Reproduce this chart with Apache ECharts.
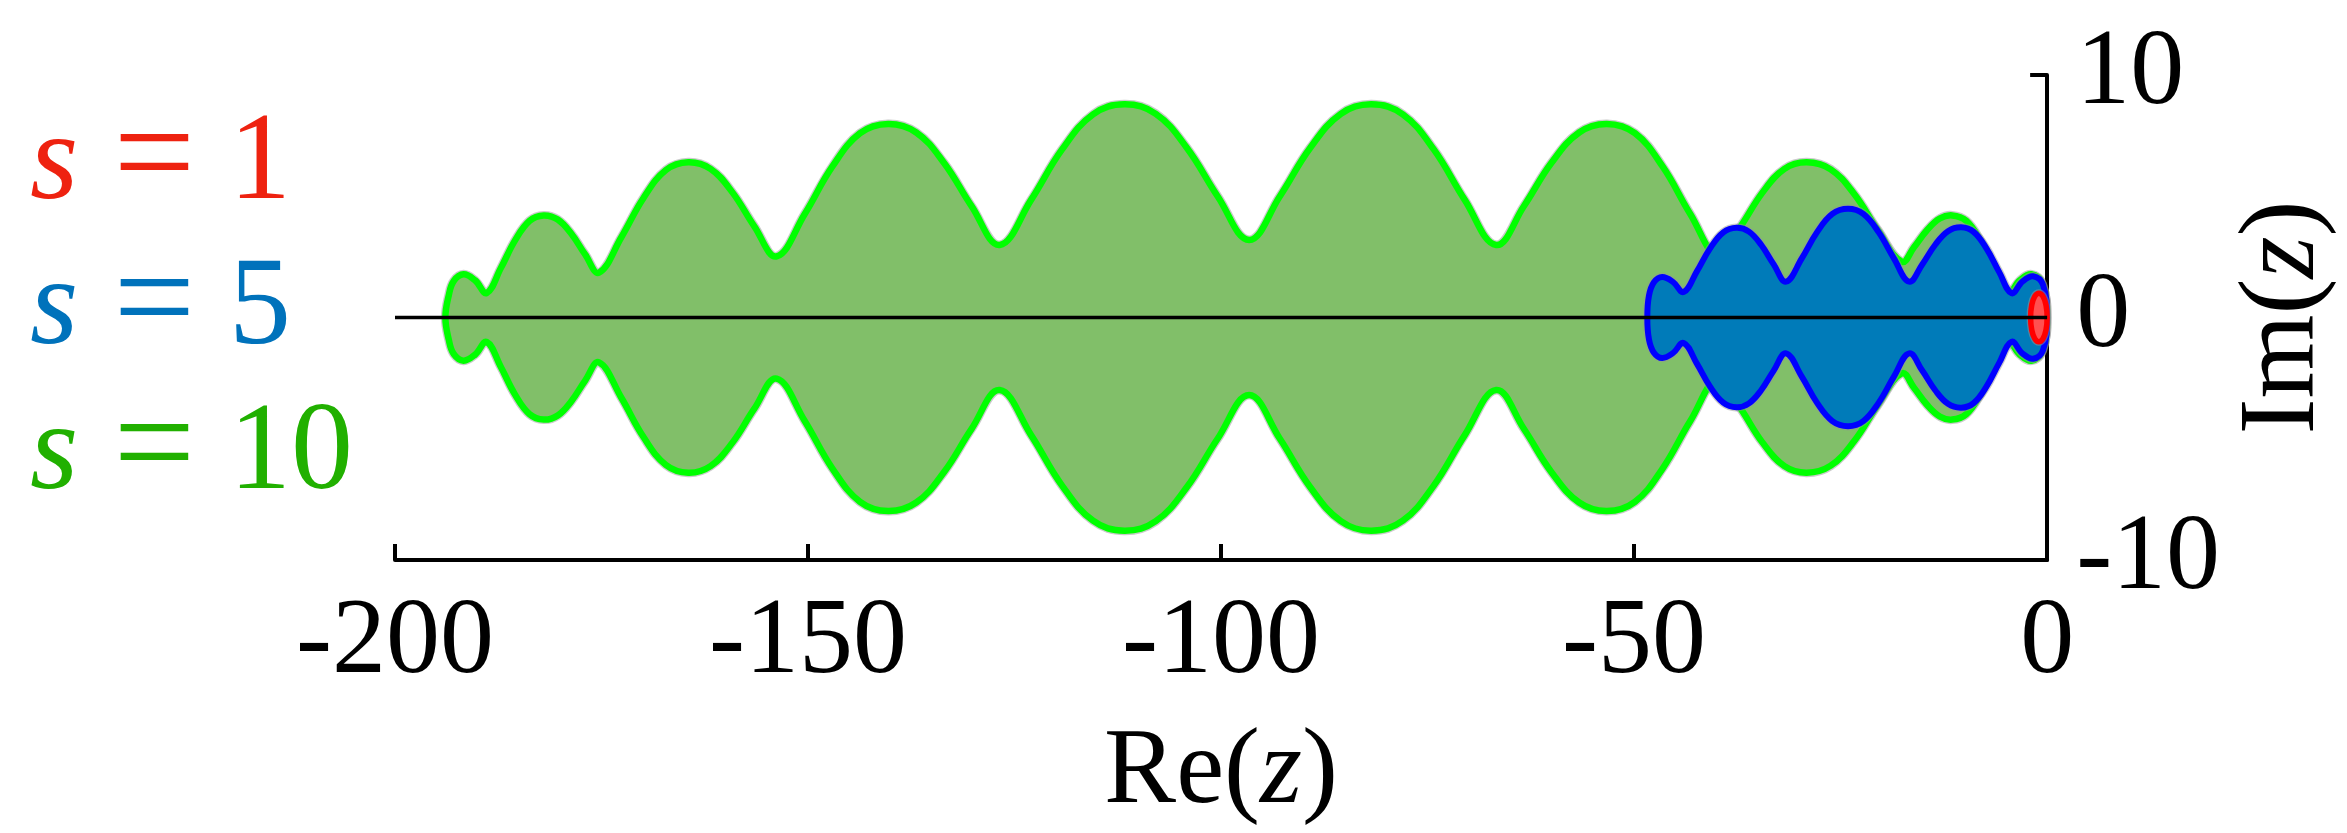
<!DOCTYPE html>
<html>
<head>
<meta charset="utf-8">
<script src="https://cdn.jsdelivr.net/npm/echarts@6/dist/echarts.min.js"></script>
<style>
  html, body { margin: 0; padding: 0; background: #ffffff; }
  #chart { width: 2347px; height: 833px; }
</style>
</head>
<body>
<div id="chart"></div>
<script>
// Boundaries of the stability regions |R(z)| <= 1 in the complex plane.
// Each region is stored as its real parts plus the upper and lower imaginary parts.

// s = 10
const s10Re = [-193.9, -193.5, -192.9, -191.7, -190.3, -188.9,
  -187.2, -185.45, -183.7, -182.0,
  -180.3, -178.65, -177.0, -175.3,
  -172.6, -169.9, -167.2, -164.5,
  -161.8, -159.15, -156.5, -153.8,
  -150.4, -147.05, -143.7, -140.3,
  -136.9, -133.55, -130.2, -126.8,
  -123.0, -119.25, -115.5, -111.7,
  -107.9, -104.15, -100.4, -96.6,
  -92.9, -89.2, -85.5, -81.8,
  -78.0, -74.25, -70.5, -66.7,
  -63.35, -60.0, -56.65, -53.3,
  -49.9, -46.55, -43.2, -39.8,
  -37.1, -34.45, -31.8, -29.1,
  -26.2, -23.35, -20.5, -17.6,
  -16.1, -14.55, -13.0, -11.5,
  -9.8, -8.1, -6.4, -4.7,
  -3.3, -1.9, -0.6, 0];
const s10ImUpper = [0, 0.9, 1.5, 1.78, 1.53, 1.01,
  2.03, 3.19, 3.99, 4.21,
  4.04, 3.45, 2.61, 1.85,
  3.31, 4.94, 6.08, 6.40,
  6.13, 5.16, 3.76, 2.52,
  4.27, 6.23, 7.60, 7.98,
  7.63, 6.38, 4.59, 2.99,
  4.85, 6.93, 8.38, 8.79,
  8.40, 7.00, 4.99, 3.20,
  4.99, 7.00, 8.40, 8.79,
  8.38, 6.93, 4.85, 2.99,
  4.59, 6.38, 7.63, 7.98,
  7.60, 6.23, 4.27, 2.52,
  3.76, 5.16, 6.13, 6.40,
  6.11, 5.09, 3.61, 2.30,
  2.91, 3.60, 4.08, 4.21,
  3.99, 3.19, 2.03, 1.01,
  1.53, 1.78, 1.4, 0];
const s10ImLower = [0, -0.9, -1.5, -1.78, -1.53, -1.01,
  -2.03, -3.19, -3.99, -4.21,
  -4.04, -3.45, -2.61, -1.85,
  -3.31, -4.94, -6.08, -6.40,
  -6.13, -5.16, -3.76, -2.52,
  -4.27, -6.23, -7.60, -7.98,
  -7.63, -6.38, -4.59, -2.99,
  -4.85, -6.93, -8.38, -8.79,
  -8.40, -7.00, -4.99, -3.20,
  -4.99, -7.00, -8.40, -8.79,
  -8.38, -6.93, -4.85, -2.99,
  -4.59, -6.38, -7.63, -7.98,
  -7.60, -6.23, -4.27, -2.52,
  -3.76, -5.16, -6.13, -6.40,
  -6.11, -5.09, -3.61, -2.30,
  -2.91, -3.60, -4.08, -4.21,
  -3.99, -3.19, -2.03, -1.01,
  -1.53, -1.78, -1.4, 0];

// s = 5
const s5Re = [-48.4, -48.2, -47.6, -46.6, -45.3, -44.0,
  -42.4, -40.8, -39.2, -37.6,
  -36.1, -34.6, -33.1, -31.6,
  -29.7, -27.85, -26.0, -24.1,
  -22.25, -20.4, -18.55, -16.7,
  -15.1, -13.55, -12.0, -10.4,
  -8.9, -7.35, -5.8, -4.3,
  -3.0, -1.7, -0.5, 0];
const s5ImUpper = [0, 0.9, 1.45, 1.67, 1.47, 1.05,
  1.90, 2.85, 3.51, 3.70,
  3.54, 2.99, 2.19, 1.48,
  2.44, 3.52, 4.27, 4.48,
  4.27, 3.52, 2.44, 1.48,
  2.20, 3.00, 3.56, 3.72,
  3.53, 2.85, 1.87, 1.00,
  1.48, 1.70, 1.35, 0];
const s5ImLower = [0, -0.9, -1.45, -1.67, -1.47, -1.05,
  -1.90, -2.85, -3.51, -3.70,
  -3.54, -2.99, -2.19, -1.48,
  -2.44, -3.52, -4.27, -4.48,
  -4.27, -3.52, -2.44, -1.48,
  -2.20, -3.00, -3.56, -3.72,
  -3.53, -2.85, -1.87, -1.00,
  -1.48, -1.70, -1.35, 0];

// s = 1 (closed loop)
const s1Re = [0, -0.13, -0.5, -1.0, -1.5, -1.87, -2.0, -1.87, -1.5, -1.0, -0.5, -0.13];
const s1Im = [0, 0.5, 0.87, 1.0, 0.87, 0.5, 0, -0.5, -0.87, -1.0, -0.87, -0.5];

// Real axis segment drawn across the plot
const realLineRe = [-200, 0];
const realLineIm = [0, 0];

// Axis ranges and tick spacing
const reRange = [-200, 0];
const reStep = 50;
const imRange = [-10, 10];
const imStep = 10;

// Stage counts shown in the key
const stageCounts = ['1', '5', '10'];

const SERIF = "'Liberation Serif', 'Times New Roman', serif";
const keyColors = ['#ee2210', '#0072bb', '#21b000'];

// Closed outline: upper half left to right, lower half back right to left
function closedOutline(re, upper, lower) {
  const pts = [];
  for (let i = 0; i < re.length; i++) pts.push([re[i], upper[i]]);
  for (let i = re.length - 2; i > 0; i--) pts.push([re[i], lower[i]]);
  return pts;
}
function loop(re, im) {
  return re.map((r, i) => [r, im[i]]);
}

function regionSeries(name, pts, fill, stroke, width, z, smooth) {
  return {
    type: 'custom',
    name: name,
    coordinateSystem: 'cartesian2d',
    silent: true,
    z: z,
    data: pts,
    renderItem: function (params, api) {
      if (params.dataIndex !== 0) return null;
      const px = pts.map(p => api.coord(p));
      return {
        type: 'group',
        children: [
          {
            type: 'polygon',
            shape: { points: px, smooth: smooth },
            style: { fill: 'none', stroke: 'rgba(150,150,150,0.5)', lineWidth: width + 2.5 }
          },
          {
            type: 'polygon',
            shape: { points: px, smooth: smooth },
            style: { fill: fill, stroke: stroke, lineWidth: width }
          }
        ]
      };
    }
  };
}

const chart = echarts.init(document.getElementById('chart'), null, { renderer: 'canvas' });

const nameRich = {
  r: { fontFamily: SERIF, fontSize: 108, lineHeight: 108, color: '#000' },
  i: { fontFamily: SERIF, fontSize: 108, lineHeight: 108, fontStyle: 'italic', color: '#000' }
};

// Key: "s = n" rows on the left
const keyBaselines = [207, 352, 497];
const keyGraphics = [];
stageCounts.forEach((n, k) => {
  const base = keyBaselines[k];
  const color = keyColors[k];
  keyGraphics.push({
    type: 'text', x: 30, y: base - 41.85, silent: true,
    style: { text: 's', font: "italic 124px 'Liberation Serif'", fill: color,
      align: 'left', verticalAlign: 'middle', textAlign: 'left', textVerticalAlign: 'middle' }
  });
  keyGraphics.push({
    type: 'text', x: 154.5, y: base + 3.7 - 48.9, silent: true,
    style: { text: '=', font: "145px 'Liberation Serif'", fill: color,
      align: 'center', verticalAlign: 'middle', textAlign: 'center', textVerticalAlign: 'middle' }
  });
  keyGraphics.push({
    type: 'text', x: 229, y: base - 41.85, silent: true,
    style: { text: n, font: "124px 'Liberation Serif'", fill: color,
      align: 'left', verticalAlign: 'middle', textAlign: 'left', textVerticalAlign: 'middle' }
  });
});

chart.setOption({
  animation: false,
  backgroundColor: '#ffffff',
  grid: { left: 395, right: 295, top: 75, bottom: 267, containLabel: false },
  xAxis: {
    type: 'value',
    min: reRange[0], max: reRange[1], interval: reStep,
    position: 'bottom',
    axisLine: { onZero: false, lineStyle: { color: '#000', width: 4 } },
    axisTick: { inside: true, length: 16, lineStyle: { color: '#000', width: 4 } },
    axisLabel: { fontFamily: SERIF, fontSize: 108, lineHeight: 108, color: '#000', margin: 30 },
    splitLine: { show: false },
    name: '{r|Re(}{i|z}{r|)}',
    nameLocation: 'middle',
    nameGap: 160,
    nameTextStyle: { fontFamily: SERIF, fontSize: 108, lineHeight: 108, color: '#000', rich: nameRich }
  },
  yAxis: {
    type: 'value',
    min: imRange[0], max: imRange[1], interval: imStep,
    position: 'right',
    axisLine: { onZero: false, lineStyle: { color: '#000', width: 4 } },
    axisTick: { inside: true, length: 17, lineStyle: { color: '#000', width: 4 } },
    axisLabel: { fontFamily: SERIF, fontSize: 108, lineHeight: 108, color: '#000', margin: 29,
      padding: [0, 0, 23, 0] },
    splitLine: { show: false },
    name: '{r|Im(}{i|z}{r|)}',
    nameLocation: 'middle',
    nameRotate: 90,
    nameGap: 180,
    nameTextStyle: { fontFamily: SERIF, fontSize: 108, lineHeight: 108, color: '#000', rich: nameRich }
  },
  graphic: keyGraphics,
  series: [
    regionSeries('s = 10', closedOutline(s10Re, s10ImUpper, s10ImLower), '#81bf69', '#00ff00', 6.5, 2, 0.4),
    regionSeries('s = 5', closedOutline(s5Re, s5ImUpper, s5ImLower), '#007bb9', '#0000ff', 6, 3, 0.4),
    regionSeries('s = 1', loop(s1Re, s1Im), '#ff5050', '#ff0000', 5.5, 4, 0.45),
    {
      type: 'line',
      name: 'Re axis',
      silent: true,
      z: 5,
      symbol: 'none',
      data: realLineRe.map((r, i) => [r, realLineIm[i]]),
      lineStyle: { color: '#000', width: 3.5 }
    }
  ]
});
</script>
</body>
</html>
